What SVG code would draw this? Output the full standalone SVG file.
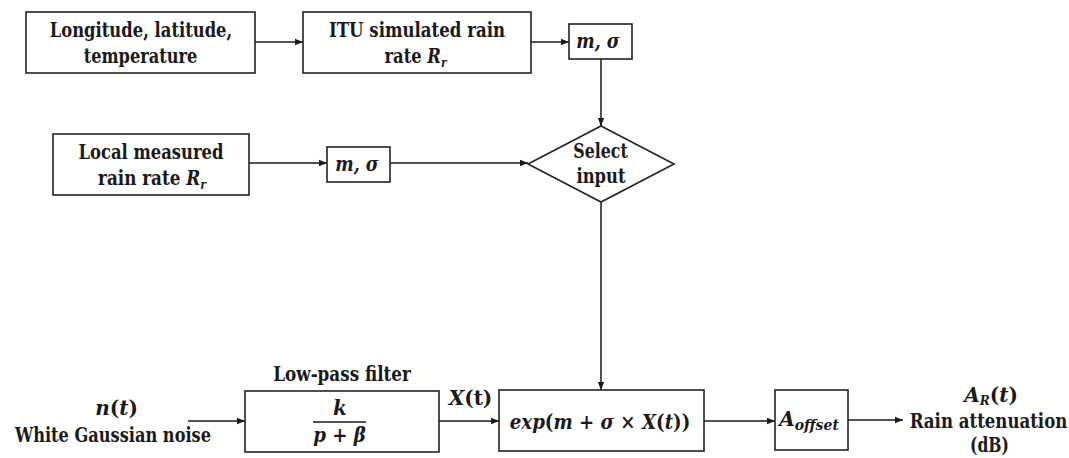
<svg xmlns="http://www.w3.org/2000/svg" width="1069" height="458" viewBox="0 0 1069 458">
<defs>
<marker id="ah" viewBox="0 0 10 10" refX="10" refY="5" markerWidth="8" markerHeight="8" markerUnits="userSpaceOnUse" orient="auto">
<path d="M0,1 L10,5 L0,9 Z" fill="#1a1a1a"/>
</marker>
<style>
.box{fill:#fff;stroke:#222;stroke-width:1.6}
.t{font-family:'DejaVu Serif','Noto Serif',serif;font-weight:bold;font-size:20px;fill:#1a1a1a;text-anchor:middle}
.m{font-family:'DejaVu Serif','Noto Serif',serif;font-weight:bold;font-style:italic;font-size:20px;fill:#1a1a1a;text-anchor:middle}
.u{font-style:normal}
.c{fill:none;stroke:#1a1a1a;stroke-width:1.5;marker-end:url(#ah)}
</style>
</defs>
<rect width="1069" height="458" fill="#fff"/>
<g id="connectors">
<line class="c" x1="255" y1="42" x2="303" y2="42"/>
<line class="c" x1="531" y1="42" x2="569" y2="42"/>
<line class="c" x1="601" y1="59" x2="601" y2="126"/>
<line class="c" x1="249" y1="163" x2="327" y2="163"/>
<line class="c" x1="390" y1="163" x2="528" y2="163"/>
<line class="c" x1="601" y1="202" x2="601" y2="390"/>
<line class="c" x1="188" y1="421" x2="245" y2="421"/>
<line class="c" x1="439" y1="421" x2="499" y2="421"/>
<line class="c" x1="704" y1="421" x2="775" y2="421"/>
<line class="c" x1="848" y1="420" x2="903" y2="420"/>
</g>
<g id="n-location">
<rect class="box" x="26" y="12" width="229" height="61"/>
<text class="t" transform="translate(141 37) scale(0.82 1)">Longitude, latitude,</text>
<text class="t" transform="translate(140.5 63) scale(0.81 1)">temperature</text>
</g>
<g id="n-itu">
<rect class="box" x="303" y="12" width="228" height="61"/>
<text class="t" transform="translate(417 37) scale(0.83 1)">ITU simulated rain</text>
<text class="t" transform="translate(415.5 63) scale(0.82 1)">rate <tspan font-style="italic">R</tspan><tspan font-style="italic" font-size="13" dy="4">r</tspan></text>
</g>
<g id="n-ms1">
<rect class="box" x="569" y="24" width="63" height="35"/>
<text class="m" transform="translate(598 48) scale(0.87 1)">m, σ</text>
</g>
<g id="n-local">
<rect class="box" x="53" y="134" width="196" height="61"/>
<text class="t" transform="translate(151 159) scale(0.82 1)">Local measured</text>
<text class="t" transform="translate(152 185) scale(0.84 1)">rain rate <tspan font-style="italic">R</tspan><tspan font-style="italic" font-size="13" dy="4">r</tspan></text>
</g>
<g id="n-ms2">
<rect class="box" x="327" y="147" width="63" height="35"/>
<text class="m" transform="translate(357 171) scale(0.87 1)">m, σ</text>
</g>
<g id="n-select">
<polygon class="box" points="601,126 674,164 601,202 528,164"/>
<text class="t" transform="translate(600.5 158) scale(0.79 1)">Select</text>
<text class="t" transform="translate(601 183) scale(0.82 1)">input</text>
</g>
<g id="n-noise">
<text class="m" x="116.5" y="415">n<tspan class="u">(</tspan>t<tspan class="u">)</tspan></text>
<text class="t" transform="translate(113 442) scale(0.81 1)">White Gaussian noise</text>
</g>
<g id="n-filter">
<text class="t" transform="translate(342 381) scale(0.84 1)">Low-pass filter</text>
<rect class="box" x="245" y="391" width="194" height="61"/>
<text class="m" x="340" y="415">k</text>
<line x1="313" y1="422" x2="366" y2="422" stroke="#1a1a1a" stroke-width="1.6"/>
<text class="m" transform="translate(339.5 442) scale(0.91 1)">p <tspan class="u">+</tspan> β</text>
</g>
<g id="n-xt">
<text class="m" x="470.5" y="405">X<tspan class="u">(t)</tspan></text>
</g>
<g id="n-exp">
<rect class="box" x="499" y="390" width="205" height="61"/>
<text class="m" transform="translate(600 429) scale(0.91 1)" font-size="21">exp<tspan class="u">(</tspan>m <tspan class="u">+</tspan> σ <tspan class="u">×</tspan> X<tspan class="u">(</tspan>t<tspan class="u">))</tspan></text>
</g>
<g id="n-offset">
<rect class="box" x="775" y="390" width="73" height="60"/>
<text class="m" x="809" y="426">A<tspan font-size="14" dy="4">offset</tspan></text>
</g>
<g id="n-output">
<text class="m" x="991" y="402">A<tspan font-size="12" dy="3">R</tspan><tspan class="u" dy="-3">(</tspan>t<tspan class="u">)</tspan></text>
<text class="t" transform="translate(988.5 428) scale(0.83 1)">Rain attenuation</text>
<text class="t" transform="translate(989.5 452) scale(0.78 1)">(dB)</text>
</g>
</svg>
